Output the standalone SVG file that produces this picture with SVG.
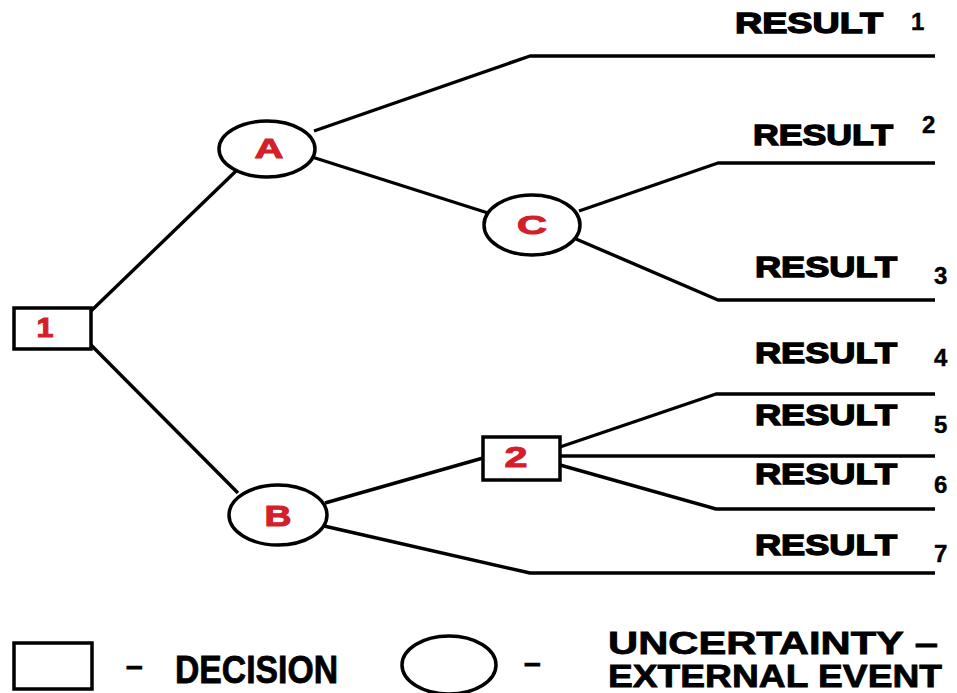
<svg xmlns="http://www.w3.org/2000/svg" width="957" height="693" viewBox="0 0 957 693">
<style>
.shape{fill:#fff;stroke:#000;stroke-width:3.5}
.edge{fill:none;stroke:#000;stroke-width:3.4;stroke-linejoin:round}
.lbl{font-family:"Liberation Sans",Arial,sans-serif;font-weight:bold;fill:#d41e2a;stroke:#d41e2a;stroke-width:1;text-anchor:middle}
.res{font-family:"Liberation Sans",Arial,sans-serif;font-weight:bold;font-size:30px;fill:#000;stroke:#000;stroke-width:1.4}
.num{font-family:"Liberation Sans",Arial,sans-serif;font-weight:bold;font-size:24px;fill:#000;stroke:#000;stroke-width:0.4}
.leg{font-family:"Liberation Sans Narrow","Liberation Sans",Arial,sans-serif;font-weight:bold;fill:#000;stroke:#000;stroke-width:0.8}
</style>
<rect width="957" height="693" fill="#fff"/>
<g id="connectors">
<path class="edge" d="M91,311 L236,171"/>
<path class="edge" d="M91,345 L238,493"/>
<path class="edge" d="M314,131 L530,56 L935,56"/>
<path class="edge" d="M312,157 L488,213"/>
<path class="edge" d="M579,211 L718,163 L935,163"/>
<path class="edge" d="M576,239 L718,300 L935,300"/>
<path class="edge" d="M325,503 L483,458"/>
<path class="edge" d="M324,526 L530,573 L935,573"/>
<path class="edge" d="M560,447 L716,394 L935,394"/>
<path class="edge" d="M560,456 L935,456"/>
<path class="edge" d="M560,465 L716,509 L935,509"/>
</g>
<g id="node-1"><rect class="shape" x="14" y="308" width="77" height="41"/><text class="lbl" x="45" y="337" font-size="27" textLength="17" lengthAdjust="spacingAndGlyphs">1</text></g>
<g id="node-A"><ellipse class="shape" cx="267" cy="149" rx="48" ry="28"/><text class="lbl" x="269" y="158" font-size="28" textLength="29" lengthAdjust="spacingAndGlyphs">A</text></g>
<g id="node-C"><ellipse class="shape" cx="532" cy="225" rx="48" ry="30"/><text class="lbl" x="532" y="234" font-size="26" textLength="30" lengthAdjust="spacingAndGlyphs">C</text></g>
<g id="node-B"><ellipse class="shape" cx="278" cy="515" rx="49" ry="30"/><text class="lbl" x="278" y="526" font-size="29" textLength="27" lengthAdjust="spacingAndGlyphs">B</text></g>
<g id="node-2"><rect class="shape" x="483" y="437" width="77" height="43"/><text class="lbl" x="516" y="467" font-size="30" textLength="23" lengthAdjust="spacingAndGlyphs">2</text></g>
<g id="results">
<text class="res" x="735" y="33" textLength="148" lengthAdjust="spacingAndGlyphs">RESULT</text><text class="num" x="911" y="30">1</text>
<text class="res" x="753" y="145" textLength="140" lengthAdjust="spacingAndGlyphs">RESULT</text><text class="num" x="922" y="133">2</text>
<text class="res" x="755" y="277" textLength="142" lengthAdjust="spacingAndGlyphs">RESULT</text><text class="num" x="934" y="284">3</text>
<text class="res" x="755" y="363" textLength="142" lengthAdjust="spacingAndGlyphs">RESULT</text><text class="num" x="934" y="366">4</text>
<text class="res" x="755" y="425" textLength="142" lengthAdjust="spacingAndGlyphs">RESULT</text><text class="num" x="934" y="433">5</text>
<text class="res" x="755" y="484" textLength="142" lengthAdjust="spacingAndGlyphs">RESULT</text><text class="num" x="934" y="493">6</text>
<text class="res" x="755" y="555" textLength="142" lengthAdjust="spacingAndGlyphs">RESULT</text><text class="num" x="934" y="562">7</text>
</g>
<g id="legend">
<rect class="shape" x="14" y="643" width="78" height="46"/>
<text class="leg" x="126" y="676" font-size="30">–</text>
<text class="leg" x="175" y="683" font-size="38" textLength="163" lengthAdjust="spacingAndGlyphs">DECISION</text>
<ellipse class="shape" cx="449" cy="665" rx="47" ry="29"/>
<text class="leg" x="524" y="673" font-size="30">–</text>
<text class="leg" x="608" y="654" font-size="32" textLength="330" lengthAdjust="spacingAndGlyphs">UNCERTAINTY –</text>
<text class="leg" x="608" y="687" font-size="32" textLength="334" lengthAdjust="spacingAndGlyphs">EXTERNAL EVENT</text>
</g>
</svg>
